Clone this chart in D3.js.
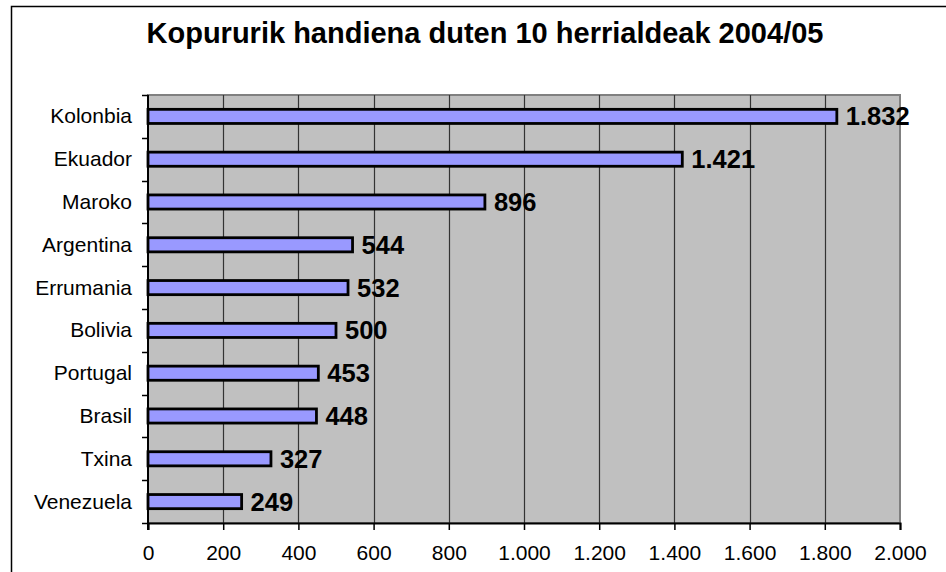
<!DOCTYPE html>
<html>
<head>
<meta charset="utf-8">
<script src="https://cdn.jsdelivr.net/npm/d3@7"></script>
<style>
  body { margin: 0; background: #fff; }
  svg { display: block; font-family: Arial, "Liberation Sans", sans-serif; }
</style>
</head>
<body>
<script>
// data
var countries = ["Kolonbia", "Ekuador", "Maroko", "Argentina", "Errumania",
                 "Bolivia", "Portugal", "Brasil", "Txina", "Venezuela"];
var values = [1832, 1421, 896, 544, 532, 500, 453, 448, 327, 249];
var xTicks = [0, 200, 400, 600, 800, 1000, 1200, 1400, 1600, 1800, 2000];
var title = "Kopururik handiena duten 10 herrialdeak 2004/05";

var W = 946, H = 572;
var margin = { top: 95, right: 46, bottom: 49, left: 148 },
    width = W - margin.left - margin.right,
    height = H - margin.top - margin.bottom;

var fmt = function (v) {
  // thousands separator is a dot
  return d3.format(",")(v).replace(/,/g, ".");
};

var root = d3.select("body").append("svg")
    .attr("width", W)
    .attr("height", H);

// outer frame
root.append("rect")
    .attr("x", 11.5).attr("y", 6.5)
    .attr("width", W).attr("height", H)
    .attr("fill", "#fff")
    .attr("stroke", "#000")
    .attr("stroke-width", 1.5);

root.append("text")
    .attr("x", 485)
    .attr("y", 43)
    .attr("text-anchor", "middle")
    .style("font-size", "29px")
    .style("font-weight", "bold")
    .text(title);

var svg = root.append("g")
    .attr("transform", "translate(" + margin.left + "," + margin.top + ")");

var xScale = d3.scaleLinear()
    .domain([0, 2000])
    .range([0, width]);

var yScale = d3.scaleBand()
    .domain(countries)
    .range([0, height]);

// plot background
svg.append("rect")
    .attr("width", width)
    .attr("height", height)
    .attr("fill", "#c0c0c0")
    .attr("stroke", "#808080")
    .attr("stroke-width", 2);

// vertical gridlines
svg.selectAll(".grid")
    .data(xTicks.slice(1, -1))
    .enter()
    .append("line")
    .attr("class", "grid")
    .attr("x1", d => Math.round(xScale(d)) + 0.5)
    .attr("x2", d => Math.round(xScale(d)) + 0.5)
    .attr("y1", 0)
    .attr("y2", height)
    .attr("stroke", "#333")
    .attr("stroke-width", 1.2);

// bars
var barH = yScale.bandwidth() * 0.33;
svg.selectAll(".bar")
    .data(countries)
    .enter()
    .append("rect")
    .attr("class", "bar")
    .attr("x", 0)
    .attr("y", d => yScale(d) + (yScale.bandwidth() - barH) / 2)
    .attr("width", (d, i) => xScale(values[i]))
    .attr("height", barH)
    .attr("fill", "#9999ff")
    .attr("stroke", "#000")
    .attr("stroke-width", 2.8);

// value labels
svg.selectAll(".val")
    .data(countries)
    .enter()
    .append("text")
    .attr("class", "val")
    .attr("x", (d, i) => xScale(values[i]) + 9)
    .attr("y", d => yScale(d) + yScale.bandwidth() / 2 + 9)
    .style("font-size", "25.5px")
    .style("font-weight", "bold")
    .text((d, i) => fmt(values[i]));

// x axis
var xAxis = d3.axisBottom(xScale)
    .tickValues(xTicks)
    .tickSize(7)
    .tickFormat(fmt);

var gx = svg.append("g")
    .attr("transform", "translate(0," + height + ")")
    .call(xAxis);
gx.select(".domain").attr("stroke", "#000").attr("stroke-width", 2);
gx.selectAll(".tick line").attr("stroke", "#000").attr("stroke-width", 1.5);
gx.selectAll(".tick text")
    .attr("dy", 0)
    .attr("y", 37)
    .style("font-size", "21px")
    .style("font-family", "Arial, 'Liberation Sans', sans-serif")
    .attr("fill", "#000");

// y axis: ticks on the band edges, labels centred in bands
var gy = svg.append("g");
gy.append("line")
    .attr("x1", 0).attr("x2", 0)
    .attr("y1", 0).attr("y2", height + 7)
    .attr("stroke", "#000")
    .attr("stroke-width", 2);
gy.selectAll(".ytick")
    .data(d3.range(countries.length + 1))
    .enter()
    .append("line")
    .attr("class", "ytick")
    .attr("x1", -6).attr("x2", 0)
    .attr("y1", i => Math.round(i * yScale.step()) + 0.5)
    .attr("y2", i => Math.round(i * yScale.step()) + 0.5)
    .attr("stroke", "#000")
    .attr("stroke-width", 1.5);
gy.selectAll(".ylab")
    .data(countries)
    .enter()
    .append("text")
    .attr("class", "ylab")
    .attr("x", -16)
    .attr("y", d => yScale(d) + yScale.bandwidth() / 2 + 7)
    .attr("text-anchor", "end")
    .style("font-size", "21px")
    .text(d => d);
</script>
</body>
</html>
